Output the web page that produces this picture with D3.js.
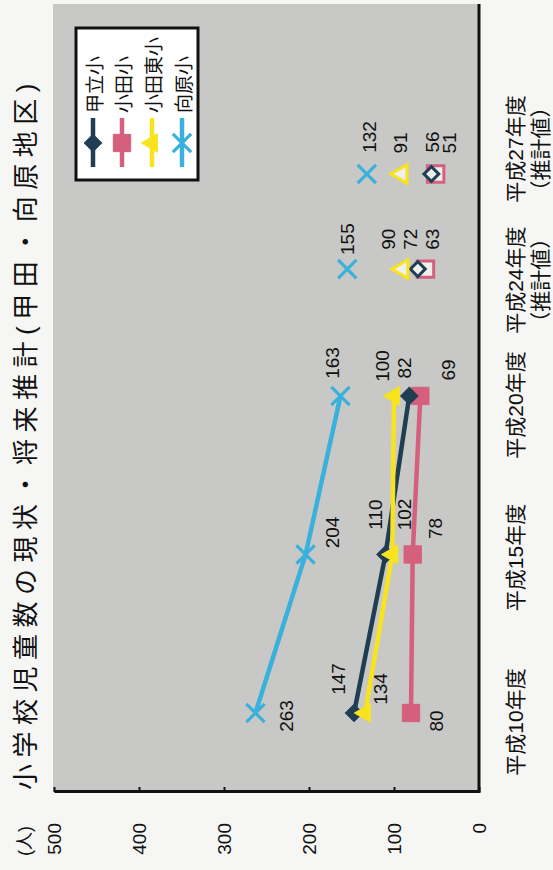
<!DOCTYPE html>
<html><head><meta charset="utf-8">
<script src="https://cdn.jsdelivr.net/npm/d3@7"></script>
<style>
html,body{margin:0;padding:0;background:#f6f6f4;}
text{font-family:"Liberation Sans","Noto Sans CJK JP",sans-serif;fill:#111;}
</style>
</head><body>
<svg id="c" width="553" height="870"></svg>
<script>
// ---------- data ----------
const title = "小学校児童数の現状・将来推計(甲田・向原地区)";
const unitLabel = "(人)";
const years = [10, 15, 20, 24, 27];
const categoryLabels = [["平成10年度"], ["平成15年度"], ["平成20年度"], ["平成24年度", "（推計値）"], ["平成27年度", "（推計値）"]];
const seriesNames = ["甲立小", "小田小", "小田東小", "向原小"];
const kotachi    = [147, 110, 82, 72, 56];
const oda        = [80, 78, 69, 63, 51];
const odahigashi = [134, 102, 100, 90, 91];
const mukaihara  = [263, 204, 163, 155, 132];
const yTicks = [0, 100, 200, 300, 400, 500];

// ---------- layout (chart drawn unrotated, then turned -90°) ----------
const W = 870, H = 553;
const plot = {left: 78, right: 866, top: 53, bottom: 479};
const colors = ["#1f3e54", "#d4607d", "#f8e41e", "#3ab0dc"];
const symbols = ["diamond", "square", "triangle", "x"];
// label offsets [dx, dy] (unrotated frame) per series per category
const labelOffsets = [
  [[34, -16], [40, -10], [28, -5], [30, -7], [32, 1]],
  [[-8, 25], [26, 23], [26, 28], [30, 7], [31, 14]],
  [[24, 15], [40, 12], [30, -12], [30, -14], [31, -1]],
  [[-3, 31], [22, 27], [33, -8], [30, 0], [37, 3]]
];
const catShift = [-9, -3, -9, -11, 25];
const markerOrder = [1, 0, 2, 3];

const values = [kotachi, oda, odahigashi, mukaihara];
const isEstimate = categoryLabels.map(l => l.length > 1);

const svg = d3.select("#c");
svg.append("rect").attr("width", 553).attr("height", 870).attr("fill", "#f6f6f4");
const g = svg.append("g").attr("transform", `translate(0,${W}) rotate(-90)`);

const x = d3.scaleLinear().domain([10, 27]).range([157, 696]);
const y = d3.scaleLinear().domain([0, 500]).range([479, 54]);

// plot area
g.append("rect").attr("x", plot.left).attr("y", plot.top)
  .attr("width", plot.right - plot.left).attr("height", plot.bottom - plot.top)
  .attr("fill", "#c8c8c6");

// title
g.append("text").attr("x", 80).attr("y", 35).attr("font-size", 26)
  .attr("letter-spacing", 6.5).text(title);

// y axis
const yAxis = d3.axisLeft(y).tickValues(yTicks).tickSize(-5).tickSizeOuter(0).tickPadding(31);
const ya = g.append("g").attr("transform", `translate(${plot.left},0)`).call(yAxis);
ya.select(".domain").attr("stroke", "#111").attr("stroke-width", 3);
ya.selectAll(".tick line").attr("stroke", "#111").attr("stroke-width", 2);
ya.selectAll(".tick text").attr("font-size", 19).attr("font-family", "Liberation Sans, sans-serif").attr("fill", "#111");
g.append("text").attr("x", 14).attr("y", 25).attr("dominant-baseline", "central")
  .attr("font-size", 18).text(unitLabel);

// x axis line
g.append("line").attr("x1", plot.left - 1).attr("x2", plot.right).attr("y1", plot.bottom).attr("y2", plot.bottom)
  .attr("stroke", "#111").attr("stroke-width", 3);

// category labels
categoryLabels.forEach((lines, i) => {
  const t = g.append("text").attr("text-anchor", "middle").attr("font-size", 21);
  lines.forEach((s, k) => {
    t.append("tspan").attr("x", x(years[i]) + catShift[i]).attr("y", 523 + k * 25).text(s);
  });
});

function symPath(kind, hollow) {
  if (kind === "diamond") return {d: d3.symbol(d3.symbolSquare, hollow ? 110 : 150)(), rot: 45};
  if (kind === "square") return {d: d3.symbol(d3.symbolSquare, hollow ? 270 : 300)(), rot: 0};
  if (kind === "triangle") return {d: d3.symbol(d3.symbolTriangle, 150)(), rot: 0};
  return {d: d3.symbol(d3.symbolTimes, 220)(), rot: 0};
}
function drawMarker(sel, kind, color, cx, cy, hollow) {
  const s = symPath(kind, hollow);
  const p = sel.append("path").attr("d", s.d)
    .attr("transform", `translate(${cx},${cy}) rotate(${s.rot})`);
  if (kind === "x") {
    p.attr("fill", "none").attr("stroke", color).attr("stroke-width", 3.2);
  } else if (hollow) {
    p.attr("fill", "#efefed").attr("stroke", color).attr("stroke-width", 3);
  } else {
    p.attr("fill", color).attr("stroke", color).attr("stroke-width", 1);
  }
}

// series lines
const line = d3.line().x(d => x(d.yr)).y(d => y(d.v));
const allPts = values.map(vals => vals.map((v, i) => ({yr: years[i], v, est: isEstimate[i]})));
allPts.forEach((pts, si) => {
  g.append("path").datum(pts.filter(p => !p.est)).attr("d", line)
    .attr("fill", "none").attr("stroke", colors[si]).attr("stroke-width", 4.5);
});
// markers
markerOrder.forEach(si => {
  allPts[si].forEach(p => drawMarker(g, symbols[si], colors[si], x(p.yr), y(p.v), p.est));
});
// data labels
values.forEach((vals, si) => {
  vals.forEach((v, i) => {
    const o = labelOffsets[si][i];
    g.append("text").attr("x", x(years[i]) + o[0]).attr("y", y(v) + o[1])
      .attr("text-anchor", "middle").attr("dominant-baseline", "central")
      .attr("font-size", 19).text(v);
  });
});

// legend
const lg = g.append("g");
lg.append("rect").attr("x", 690).attr("y", 76).attr("width", 152).attr("height", 122)
  .attr("fill", "#fff").attr("stroke", "#111").attr("stroke-width", 3);
const rows = [93, 122, 152, 182];
seriesNames.forEach((n, si) => {
  const ry = rows[si];
  lg.append("line").attr("x1", 703).attr("x2", 752).attr("y1", ry).attr("y2", ry)
    .attr("stroke", colors[si]).attr("stroke-width", 4.5);
  drawMarker(lg, symbols[si], colors[si], 727, ry, false);
  lg.append("text").attr("x", 757).attr("y", ry + 2).attr("dominant-baseline", "central")
    .attr("font-size", 19).text(n);
});
</script>
</body></html>
